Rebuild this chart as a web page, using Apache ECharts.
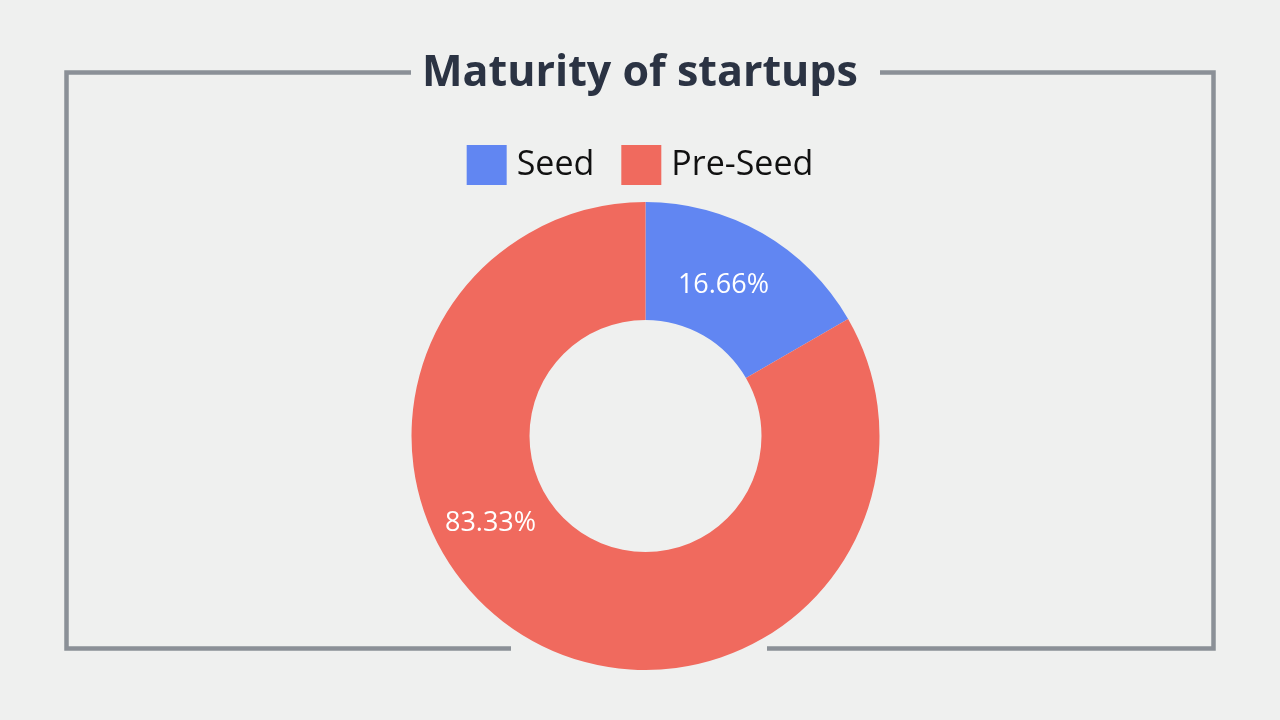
<!DOCTYPE html>
<html>
<head>
<meta charset="utf-8">
<script src="https://cdn.jsdelivr.net/npm/echarts@6/dist/echarts.min.js"></script>
<style>
  html, body { margin: 0; padding: 0; background: #eff0ef; }
  #chart { width: 1280px; height: 720px; }
</style>
</head>
<body>
<div id="chart"></div>
<script>
// data
const stages = ['Seed', 'Pre-Seed'];
const shares = [16.66, 83.33];
const colors = ['#6186f2', '#f06a5e'];

const chart = echarts.init(document.getElementById('chart'));
const frame = '#8b9097';

const option = {
  backgroundColor: '#eff0ef',
  title: {
    text: 'Maturity of startups',
    left: 'center',
    top: 47,
    padding: [5, 0, 5, 12],
    textStyle: {
      fontFamily: 'Open Sans',
      fontWeight: 700,
      fontSize: 43,
      color: '#2b3343'
    }
  },
  legend: {
    data: stages,
    top: 140,
    left: 'center',
    itemWidth: 40,
    itemHeight: 40,
    itemGap: 27,
    icon: 'rect',
    textStyle: {
      fontFamily: 'Open Sans',
      fontSize: 34,
      color: '#111',
      padding: [0, 0, 0, 5]
    }
  },
  graphic: [
    {
      type: 'polyline',
      silent: true,
      shape: { points: [[411, 72.5], [66.5, 72.5], [66.5, 648.5], [511, 648.5]] },
      style: { stroke: frame, lineWidth: 4.5, fill: null }
    },
    {
      type: 'polyline',
      silent: true,
      shape: { points: [[880, 72.5], [1213.5, 72.5], [1213.5, 648.5], [767, 648.5]] },
      style: { stroke: frame, lineWidth: 4.5, fill: null }
    }
  ],
  series: [
    {
      type: 'pie',
      center: [645.5, 436],
      radius: [116, 234],
      startAngle: 90,
      clockwise: true,
      avoidLabelOverlap: false,
      label: {
        show: true,
        position: 'inside',
        formatter: '{c}%',
        color: '#fff',
        fontFamily: 'Open Sans',
        fontSize: 27
      },
      labelLine: { show: false },
      labelLayout: function (p) {
        if (p.dataIndex === 1) return { dx: -66, dy: -67 };
        return { dx: -11, dy: 3 };
      },
      emphasis: { disabled: true },
      data: stages.map((name, i) => ({
        name: name,
        value: shares[i],
        itemStyle: { color: colors[i] }
      }))
    }
  ]
};
chart.setOption(option);
</script>
</body>
</html>
